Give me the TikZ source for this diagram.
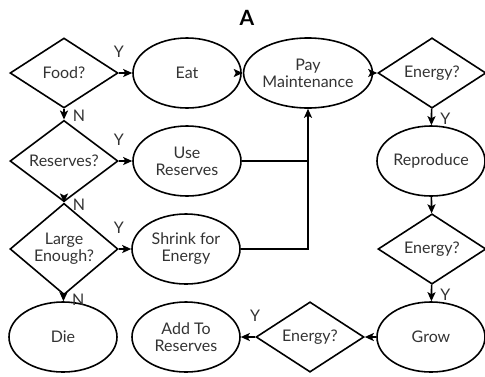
\documentclass[tikz,border=0pt]{standalone}
\usepackage{fontspec}
\setmainfont{Lato}
\usetikzlibrary{arrows.meta}
\usetikzlibrary{shapes.geometric}
\tikzset{
 decision/.style={diamond, draw, line width=1.6pt, minimum width=108, minimum height=70, inner sep=0, align=center, text=black!80, font=\fontsize{16}{17}\selectfont},
 state/.style={ellipse, draw, line width=1.6pt, minimum width=108, minimum height=70, inner sep=0, align=center, text=black!80, font=\fontsize{16}{17}\selectfont},
 flow/.style={line width=1.6pt, -{Stealth[length=9pt,width=8pt,inset=2pt]}},
 yn/.style={text=black!80, font=\fontsize{16}{16}\selectfont, inner sep=1}
}

\begin{document}
\begin{tikzpicture} [x=1pt,y=-1pt]
\useasboundingbox (0,0) rectangle (485,376);
\node[font=\bfseries\fontsize{21}{21}\selectfont] (title) at (247,18) {A};
% first column
\node[decision] (food) at (64,73) {Food?};
\node[decision] (reserves) at (64,161) {Reserves?};
\node[decision] (large) at (64,249) {Large\\Enough?};
\node[state] (die) at (63,337) {Die};
% second column
\node[state] (eat) at (187,73) {Eat};
\node[state] (usereserves) at (187,161) {Use\\Reserves};
\node[state] (shrink) at (186,249) {Shrink for\\Energy};
\node[state] (addreserves) at (186,337) {Add To\\Reserves};
% right side
\node[state] (pay) at (308,73) {Pay\\Maintenance};
\node[decision] (energya) at (432,73) {Energy?};
\node[state] (reproduce) at (431,161) {Reproduce};
\node[decision] (energyb) at (432,249) {Energy?};
\node[state] (grow) at (431,337) {Grow};
\node[decision] (energyc) at (310,337) {Energy?};

\draw[flow] (food) -- node[yn, pos=0, above=14pt] {Y} (eat);
\draw[flow] (food) -- node[yn, right=7pt, yshift=-2pt] {N} (reserves);
\draw[flow] (reserves) -- node[yn, pos=0, above=14pt] {Y} (usereserves);
\draw[flow] (reserves) -- node[yn, right=7pt, yshift=-2pt] {N} (large);
\draw[flow] (large) -- node[yn, pos=0, above=14pt] {Y} (shrink);
\draw[flow] (large) -- node[yn, right=7pt, yshift=-2pt] {N} (die);
\draw[flow] (eat) -- (pay);
\draw[line width=1.6pt] (usereserves) -- (usereserves -| pay);
\draw[flow] (shrink) -| (pay);
\draw[flow] (pay) -- (energya);
\draw[flow] (energya) -- node[yn, right=7pt, yshift=-2pt] {Y} (reproduce);
\draw[flow] (reproduce) -- (energyb);
\draw[flow] (energyb) -- node[yn, right=7pt, yshift=-2pt] {Y} (grow);
\draw[flow] (grow) -- (energyc);
\draw[flow] (energyc) -- node[yn, pos=0, above=14pt] {Y} (addreserves);
\end{tikzpicture}
\end{document}
